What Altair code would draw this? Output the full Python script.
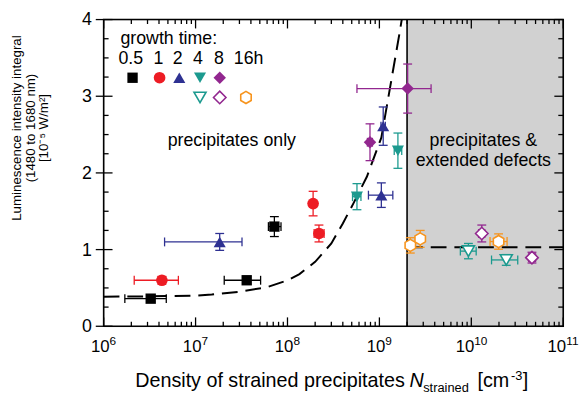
import altair as alt
import pandas as pd

# ---------------- data ----------------
# 0.5 h : black filled squares
x_05 = [3.25e6, 3.6e7, 7.2e7]
y_05 = [0.36, 0.60, 1.30]
xlo_05 = [1.7e6, 2.05e7, 6.2e7]
xhi_05 = [4.8e6, 5.1e7, 8.5e7]
ye_05 = [0.04, 0.05, 0.13]
# 1 h : red filled circles
x_1 = [4.3e6, 2.2e8, 1.9e8]
y_1 = [0.60, 1.21, 1.60]
xlo_1 = [2.15e6, 1.95e8, 1.8e8]
xhi_1 = [6.5e6, 2.5e8, 2.0e8]
ye_1 = [0.05, 0.11, 0.16]
# 2 h : blue filled triangles
x_2 = [1.83e7, 1.05e9, 1.1e9]
y_2 = [1.10, 1.71, 2.61]
xlo_2 = [4.6e6, 7.6e8, 1.04e9]
xhi_2 = [3.2e7, 1.4e9, 1.16e9]
ye_2 = [0.11, 0.16, 0.25]
# 4 h : teal filled down-triangles
x_4 = [5.7e8, 1.59e9]
y_4 = [1.69, 2.29]
xlo_4 = [5.1e8, 1.45e9]
xhi_4 = [6.3e8, 1.75e9]
ye_4 = [0.17, 0.23]
# 8 h : purple filled diamonds
x_8 = [7.9e8, 2.03e9]
y_8 = [2.40, 3.10]
xlo_8 = [7.4e8, 5.7e8]
xhi_8 = [8.4e8, 3.65e9]
ye_8 = [0.24, 0.32]
# 4 h : teal open down-triangles (extended defects)
x_4o = [9.3e9, 2.4e10]
y_4o = [0.98, 0.865]
xlo_4o = [7.6e9, 1.66e10]
xhi_4o = [1.13e10, 3.2e10]
ye_4o = [0.10, 0.07]
# 8 h : purple open diamonds
x_8o = [1.3e10, 4.57e10]
y_8o = [1.21, 0.895]
xlo_8o = [1.2e10, 4.2e10]
xhi_8o = [1.4e10, 5.0e10]
ye_8o = [0.11, 0.07]
# 16 h : orange open hexagons
x_16 = [2.17e9, 2.78e9, 1.98e10]
y_16 = [1.055, 1.14, 1.105]
xlo_16 = [2.02e9, 2.55e9, 1.6e10]
xhi_16 = [2.35e9, 3.05e9, 2.45e10]
ye_16 = [0.10, 0.11, 0.10]

# dashed guide curves
curve_x = [1e6, 3e6, 1e7, 1.5e7, 3e7, 6e7, 1e8, 1.35e8, 2e8, 3e8, 4e8, 5.2e8,
           7.3e8, 1.05e9, 1.3e9, 1.66e9, 1.75e9]
curve_y = [0.385, 0.39, 0.40, 0.415, 0.45, 0.51, 0.60, 0.68, 0.84, 1.08, 1.34,
           1.60, 1.95, 2.46, 3.10, 3.83, 4.0]
flat_x = [2e9, 1e11]
flat_y = [1.03, 1.03]
region_x = [2e9, 1e11]

x_major = [1e6, 1e7, 1e8, 1e9, 1e10, 1e11]
x_exp = ["6", "7", "8", "9", "10", "11"]
y_major = [0, 1, 2, 3, 4]
y_minor = [0.25, 0.5, 0.75, 1.25, 1.5, 1.75, 2.25, 2.5, 2.75, 3.25, 3.5, 3.75]
x_minor = [k * 10.0 ** e for e in range(6, 11) for k in range(2, 10)]

legend_labels = ["0.5", "1", "2", "4", "8"]

# ---------------- styling ----------------
W, H = 466, 311
FONT = "Liberation Sans"
HEX = "M0,-1L0.866,-0.5L0.866,0.5L0,1L-0.866,0.5L-0.866,-0.5Z"
BLACK, RED, BLUE, TEAL, PURPLE, ORANGE = ("#000000", "#ed1c24", "#2e3192",
                                         "#1c9a8f", "#92278f", "#f7941d")

XS = alt.Scale(type="log", domain=[1e6, 1e11])
YS = alt.Scale(domain=[0, 4])


def X(f):
    return alt.X(f, type="quantitative", scale=XS, axis=None)


def Y(f):
    return alt.Y(f, type="quantitative", scale=YS, axis=None)


def series_layers(xs, ys, xlo, xhi, ye, color, shape, size, filled):
    df = pd.DataFrame({"x": xs, "y": ys, "xlo": xlo, "xhi": xhi,
                       "ylo": [a - b for a, b in zip(ys, ye)],
                       "yhi": [a + b for a, b in zip(ys, ye)]})
    base = alt.Chart(df)
    xcap = pd.DataFrame({"x": xlo + xhi, "y": ys + ys})
    ycap = pd.DataFrame({"x": xs + xs, "y": list(df["ylo"]) + list(df["yhi"])})
    out = [
        base.mark_rule(color=color, strokeWidth=1.3).encode(x=X("xlo"), x2="xhi", y=Y("y")),
        alt.Chart(xcap).mark_tick(orient="vertical", size=9, thickness=1.3, color=color,
                                  opacity=1).encode(x=X("x"), y=Y("y")),
        base.mark_rule(color=color, strokeWidth=1.3).encode(x=X("x"), y=Y("ylo"), y2="yhi"),
        alt.Chart(ycap).mark_tick(orient="horizontal", size=9, thickness=1.3, color=color,
                                  opacity=1).encode(x=X("x"), y=Y("y")),
    ]
    if filled:
        pt = base.mark_point(shape=shape, size=size, filled=True, color=color, opacity=1)
    else:
        pt = base.mark_point(shape=shape, size=size, filled=False, fill="white",
                             fillOpacity=1, stroke=color, strokeWidth=1.6, opacity=1)
    out.append(pt.encode(x=X("x"), y=Y("y")))
    return out


layers = []

# shaded region + boundary
layers.append(alt.Chart(pd.DataFrame({"x": [region_x[0]], "x2": [region_x[1]],
                                      "y": [0], "y2": [4]}))
              .mark_rect(color="#d1d1d1").encode(x=X("x"), x2="x2", y=Y("y"), y2="y2"))
layers.append(alt.Chart(pd.DataFrame({"x": [region_x[0]]}))
              .mark_rule(color="black", strokeWidth=1.6)
              .encode(x=X("x"), y=alt.value(0), y2=alt.value(H)))

# dashed guide lines
layers.append(alt.Chart(pd.DataFrame({"x": curve_x, "y": curve_y}))
              .mark_line(color="black", strokeWidth=2, strokeDash=[16, 8])
              .encode(x=X("x"), y=Y("y")))
layers.append(alt.Chart(pd.DataFrame({"x": flat_x, "y": flat_y}))
              .mark_line(color="black", strokeWidth=2, strokeDash=[16, 8])
              .encode(x=X("x"), y=Y("y")))

# data series
layers += series_layers(x_05, y_05, xlo_05, xhi_05, ye_05, BLACK, "square", 110, True)
layers += series_layers(x_1, y_1, xlo_1, xhi_1, ye_1, RED, "circle", 140, True)
layers += series_layers(x_2, y_2, xlo_2, xhi_2, ye_2, BLUE, "triangle-up", 150, True)
layers += series_layers(x_4, y_4, xlo_4, xhi_4, ye_4, TEAL, "triangle-down", 150, True)
layers += series_layers(x_8, y_8, xlo_8, xhi_8, ye_8, PURPLE, "diamond", 160, True)
layers += series_layers(x_4o, y_4o, xlo_4o, xhi_4o, ye_4o, TEAL, "triangle-down", 150, False)
layers += series_layers(x_8o, y_8o, xlo_8o, xhi_8o, ye_8o, PURPLE, "diamond", 160, False)
layers += series_layers(x_16, y_16, xlo_16, xhi_16, ye_16, ORANGE, HEX, 150, False)

# frame
dummy = pd.DataFrame({"a": [0]})
layers.append(alt.Chart(dummy).mark_rect(filled=False, stroke="black", strokeWidth=1.6)
              .encode(x=alt.value(0), x2=alt.value(W), y=alt.value(0), y2=alt.value(H)))

# inward ticks
xmaj = alt.Chart(pd.DataFrame({"v": x_major}))
xmin = alt.Chart(pd.DataFrame({"v": x_minor}))
for ch, L in ((xmaj, 9), (xmin, 4.5)):
    layers.append(ch.mark_rule(color="black", strokeWidth=1.3)
                  .encode(x=X("v"), y=alt.value(H), y2=alt.value(H - L)))
    layers.append(ch.mark_rule(color="black", strokeWidth=1.3)
                  .encode(x=X("v"), y=alt.value(0), y2=alt.value(L)))
ymaj = alt.Chart(pd.DataFrame({"v": y_major}))
ymin = alt.Chart(pd.DataFrame({"v": y_minor}))
layers.append(ymaj.mark_rule(color="black", strokeWidth=1.3)
              .encode(y=Y("v"), x=alt.value(-8), x2=alt.value(9)))
layers.append(ymaj.mark_rule(color="black", strokeWidth=1.3)
              .encode(y=Y("v"), x=alt.value(W - 9), x2=alt.value(W)))
layers.append(ymin.mark_rule(color="black", strokeWidth=1.3)
              .encode(y=Y("v"), x=alt.value(0), x2=alt.value(5)))
layers.append(ymin.mark_rule(color="black", strokeWidth=1.3)
              .encode(y=Y("v"), x=alt.value(W - 5), x2=alt.value(W)))

# tick labels
layers.append(ymaj.mark_text(font=FONT, fontSize=18, align="right", baseline="middle", dy=1)
              .encode(y=Y("v"), x=alt.value(-12), text=alt.Text("v:Q", format="d")))
xl = pd.DataFrame({"v": x_major, "e": x_exp, "b": ["10"] * 6})
xl1 = alt.Chart(xl[xl["e"].str.len() == 1])
xl2 = alt.Chart(xl[xl["e"].str.len() == 2])
for ch, off in ((xl1, 6), (xl2, 3)):
    layers.append(ch.mark_text(font=FONT, fontSize=17, align="right", baseline="alphabetic", dx=off)
                  .encode(x=X("v"), y=alt.value(H + 26), text="b:N"))
    layers.append(ch.mark_text(font=FONT, fontSize=12, align="left", baseline="alphabetic", dx=off)
                  .encode(x=X("v"), y=alt.value(H + 19), text="e:N"))


def txt(s, x, y, size, align="left", angle=0, style="normal", baseline="alphabetic"):
    return (alt.Chart(pd.DataFrame({"t": [s]}))
            .mark_text(font=FONT, fontSize=size, align=align, baseline=baseline,
                       angle=angle, fontStyle=style, color="black")
            .encode(x=alt.value(x), y=alt.value(y), text="t:N"))


# y title (three rotated lines)
layers.append(txt("Luminescence intensity integral", -88, 110, 13.5, "center", 270, baseline="middle"))
layers.append(txt("(1480 to 1680 nm)", -74, 110, 13.5, "center", 270, baseline="middle"))
layers.append(txt("[10\u207b\u2075 W/m\u00b2]", -60, 110, 13.5, "center", 270, baseline="middle"))

# x title pieces
TY = H + 62
layers.append(txt("Density of strained precipitates", 32, TY, 20))
layers.append(txt("N", 310, TY, 20, style="italic"))
layers.append(txt("strained", 324, TY + 5, 13))
layers.append(txt("[cm", 379, TY, 20))
layers.append(txt("-3", 413, TY - 8, 13))
layers.append(txt("]", 425, TY, 20))

# annotations
layers.append(txt("precipitates only", 195, 128, 18, "right"))
layers.append(txt("precipitates &", 385, 128, 18, "center"))
layers.append(txt("extended defects", 385, 148, 18, "center"))

# legend
layers.append(txt("growth time:", 17, 25, 18))
for lab, cx in zip(legend_labels, [27.5, 55.5, 75, 95.5, 117]):
    layers.append(txt(lab, cx, 45, 18, "center"))
layers.append(txt("16h", 132, 45, 18))


def legpt(shape, color, x, y, size, filled):
    if filled:
        m = alt.Chart(dummy).mark_point(shape=shape, size=size, filled=True, color=color, opacity=1)
    else:
        m = alt.Chart(dummy).mark_point(shape=shape, size=size, filled=False, fill="white",
                                        fillOpacity=1, stroke=color, strokeWidth=1.6, opacity=1)
    return m.encode(x=alt.value(x), y=alt.value(y))


layers += [
    legpt("square", BLACK, 29.3, 59, 110, True),
    legpt("circle", RED, 56.7, 59, 140, True),
    legpt("triangle-up", BLUE, 76.7, 59, 150, True),
    legpt("triangle-down", TEAL, 97.7, 59, 150, True),
    legpt("diamond", PURPLE, 117.7, 59, 160, True),
    legpt("triangle-down", TEAL, 97.7, 79, 150, False),
    legpt("diamond", PURPLE, 117.7, 79, 160, False),
    legpt(HEX, ORANGE, 144.3, 79, 150, False),
]

chart = (alt.layer(*layers)
         .properties(width=W, height=H,
                     padding={"left": 97, "top": 9, "right": 16, "bottom": 69},
                     autosize=alt.AutoSizeParams(type="none"))
         .configure_view(stroke=None)
         .configure(background="white"))

chart.save("out.html", embed_options={"renderer": "svg", "actions": False})
